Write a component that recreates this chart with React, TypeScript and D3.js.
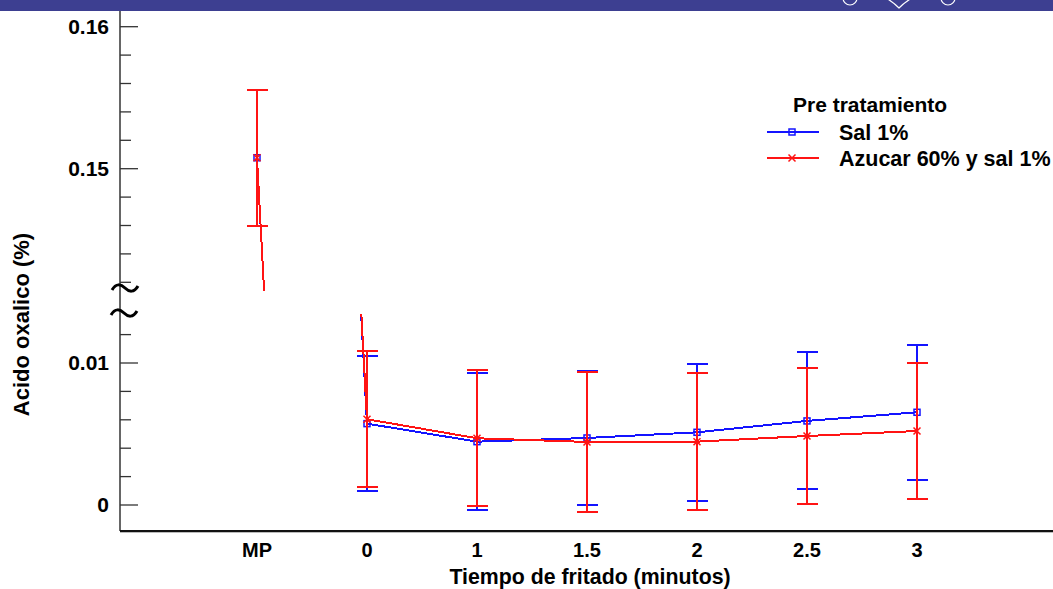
import React from "react";
import * as d3 from "d3";

const categories = ["MP", "0", "1", "1.5", "2", "2.5", "3"];
const salMean = [0.15077, 0.00573, 0.00446, 0.00472, 0.00512, 0.00592, 0.00653];
const salErr = [0.0048, 0.00474, 0.00484, 0.00475, 0.00484, 0.00482, 0.00475];
const azuMean = [0.15077, 0.00604, 0.0047, 0.00444, 0.00446, 0.00486, 0.00521];
const azuErr = [0.0048, 0.0048, 0.00478, 0.00493, 0.00484, 0.00479, 0.00478];
const seriesNames = ["Sal 1%", "Azucar 60% y sal 1%"];
const legendTitle = "Pre tratamiento";
const lowTicks = [0, 0.002, 0.004, 0.006, 0.008, 0.01, 0.012];
const highTicks = [0.142, 0.144, 0.146, 0.148, 0.15, 0.152, 0.154, 0.156, 0.158, 0.16];
const labeledTicks = [0, 0.01, 0.15, 0.16];
const xTitle = "Tiempo de fritado (minutos)";
const yTitle = "Acido oxalico (%)";

const W = 1053;
const H = 589;
const AX = 120;
const AY = 531;
const TOP = 11;
const FONT = "'Liberation Sans', Arial, sans-serif";
const BLUE = "#1414ff";
const RED = "#ff1414";

const xScale = d3.scalePoint<string>().domain(categories).range([257, 917]);
const yLow = d3.scaleLinear().domain([0, 0.01]).range([505, 363]);
const yHigh = d3.scaleLinear().domain([0.15, 0.16]).range([168.7, 26.7]);

type Series = { name: string; mean: number[]; err: number[]; color: string; marker: "square" | "x" };
const series: Series[] = [
  { name: seriesNames[0], mean: salMean, err: salErr, color: BLUE, marker: "square" },
  { name: seriesNames[1], mean: azuMean, err: azuErr, color: RED, marker: "x" },
];

function Marker({ x, y, type, color }: { x: number; y: number; type: string; color: string }) {
  if (type === "square") {
    return <rect x={x - 3} y={y - 3} width={6} height={6} fill="none" stroke={color} strokeWidth={1.5} />;
  }
  return (
    <path d={`M${x - 3.5},${y - 3.5}L${x + 3.5},${y + 3.5}M${x - 3.5},${y + 3.5}L${x + 3.5},${y - 3.5}`} stroke={color} strokeWidth={1.5} />
  );
}

function SeriesLayer({ s, y }: { s: Series; y: d3.ScaleLinear<number, number> }) {
  const line = d3
    .line<number>()
    .x((_, i) => xScale(categories[i]) as number)
    .y((d) => y(d));
  return (
    <g>
      {s.mean.map((m, i) => {
        const x = xScale(categories[i]) as number;
        const y1 = y(m + s.err[i]);
        const y2 = y(m - s.err[i]);
        return (
          <g key={i} stroke={s.color} strokeWidth={2} shapeRendering="crispEdges">
            <line x1={x} x2={x} y1={y1} y2={y2} />
            <line x1={x - 10.5} x2={x + 10.5} y1={y1} y2={y1} />
            <line x1={x - 10.5} x2={x + 10.5} y1={y2} y2={y2} />
          </g>
        );
      })}
      <path d={line(s.mean) || ""} fill="none" stroke={s.color} strokeWidth={2} shapeRendering="crispEdges" />
      {s.mean.map((m, i) => (
        <Marker key={i} x={xScale(categories[i]) as number} y={y(m)} type={s.marker} color={s.color} />
      ))}
    </g>
  );
}

function tilde(x0: number, y: number) {
  return `M${x0},${y + 2} C${x0 + 4},${y - 5} ${x0 + 9},${y - 4} ${x0 + 13},${y} S${x0 + 22},${y + 5} ${x0 + 26},${y - 2}`;
}

export default function App() {
  return (
    <svg width={W} height={H} style={{ position: "absolute", left: 0, top: 0, background: "#fff", display: "block" }} fontFamily={FONT}>
      <defs>
        <clipPath id="clipHigh">
          <rect x={AX} y={TOP} width={W - AX} height={291 - TOP} />
        </clipPath>
        <clipPath id="clipLow">
          <rect x={AX} y={314} width={W - AX} height={AY - 314} />
        </clipPath>
      </defs>
      <rect x={0} y={0} width={W} height={H} fill="#fff" />
      {/* top banner */}
      <rect x={0} y={0} width={W} height={TOP} fill="#3d3f91" />
      <g fill="none" stroke="#fff" strokeWidth={1.2}>
        <circle cx={850} cy={-2} r={7} />
        <path d="M886,-2 Q893,2 899,8 Q905,2 912,-2" />
        <circle cx={948} cy={-2} r={7} />
      </g>

      {/* data */}
      <g clipPath="url(#clipHigh)">
        {series.map((s) => (
          <SeriesLayer key={s.name} s={s} y={yHigh} />
        ))}
      </g>
      <g clipPath="url(#clipLow)">
        {series.map((s) => (
          <SeriesLayer key={s.name} s={s} y={yLow} />
        ))}
      </g>

      {/* y axis */}
      <line x1={AX} x2={AX} y1={TOP} y2={AY} stroke="#333" strokeWidth={1.5} />
      {lowTicks.map((t) => (
        <line key={"l" + t} x1={AX} x2={AX + (labeledTicks.includes(t) ? 18 : 11)} y1={yLow(t)} y2={yLow(t)} stroke="#333" strokeWidth={1.3} />
      ))}
      {highTicks.map((t) => (
        <line key={"h" + t} x1={AX} x2={AX + (labeledTicks.includes(t) ? 18 : 11)} y1={yHigh(t)} y2={yHigh(t)} stroke="#333" strokeWidth={1.3} />
      ))}
      {labeledTicks.map((t) => (
        <text key={"t" + t} x={109} y={t > 0.1 ? yHigh(t) : yLow(t)} dy="0.35em" textAnchor="end" fontSize={21} fontWeight="bold" fill="#000">
          {String(t)}
        </text>
      ))}
      <path d={tilde(112, 288)} fill="none" stroke="#000" strokeWidth={3} />
      <path d={tilde(111, 313)} fill="none" stroke="#000" strokeWidth={3} />

      {/* x axis */}
      <line x1={AX} x2={W} y1={AY} y2={AY} stroke="#111" strokeWidth={2} />
      <line x1={AX} x2={W} y1={AY + 1.5} y2={AY + 1.5} stroke="#bbb" strokeWidth={1} />
      {categories.map((c) => (
        <text key={c} x={xScale(c) as number} y={557} textAnchor="middle" fontSize={20} fontWeight="bold" fill="#000">
          {c}
        </text>
      ))}
      <text x={590} y={584} textAnchor="middle" fontSize={21.3} fontWeight="bold" fill="#000">
        {xTitle}
      </text>
      <text transform="translate(29,324.5) rotate(-90)" textAnchor="middle" fontSize={22} fontWeight="bold" fill="#000">
        {yTitle}
      </text>

      {/* legend */}
      <text x={793} y={112} fontSize={21} fontWeight="bold" fill="#000">
        {legendTitle}
      </text>
      {series.map((s, i) => {
        const ly = 132 + i * 26;
        return (
          <g key={s.name}>
            <line x1={767} x2={819} y1={ly} y2={ly} stroke={s.color} strokeWidth={2} />
            <Marker x={792} y={ly} type={s.marker} color={s.color} />
            <text x={839} y={ly} dy="0.35em" fontSize={21.5} fontWeight="bold" fill="#000">
              {s.name}
            </text>
          </g>
        );
      })}
    </svg>
  );
}
